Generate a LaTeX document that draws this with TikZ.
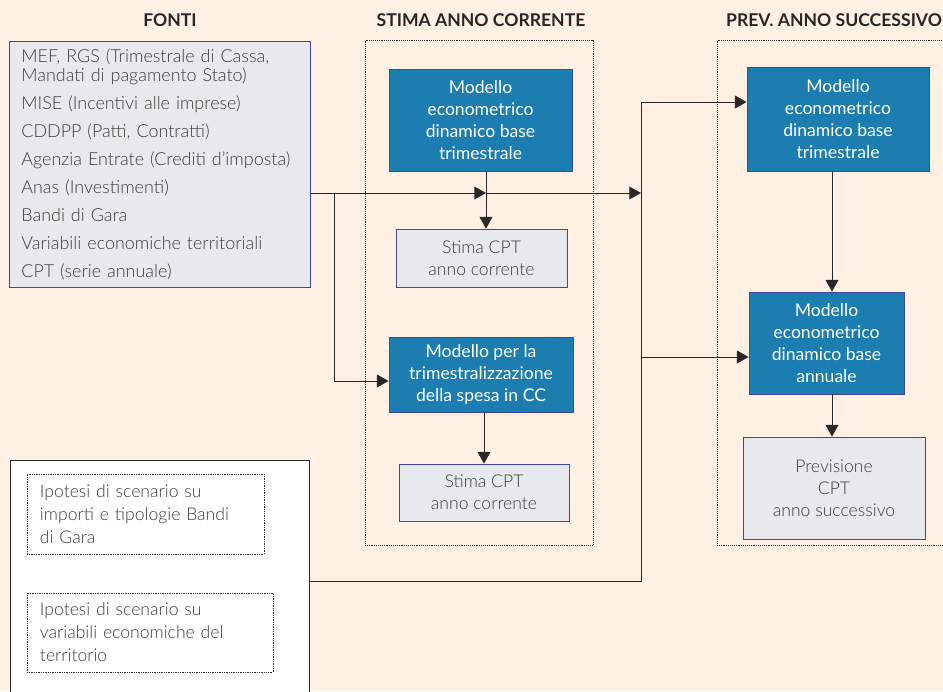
\documentclass[tikz,border=0pt]{standalone}
\usepackage{fontspec}
\setmainfont{Lato}
\newfontfamily\lightfont{Lato}[UprightFont=* Light]
\usetikzlibrary{arrows.meta, positioning}
\definecolor{cream}{RGB}{254,241,227}
\definecolor{modblue}{RGB}{28,125,176}
\definecolor{edgeblue}{RGB}{62,72,160}
\definecolor{boxgrey}{RGB}{232,233,238}
\definecolor{txtgrey}{RGB}{60,60,60}
\definecolor{linegrey}{RGB}{40,40,40}

\begin{document}
\begin{tikzpicture}[x=0.03cm, y=-0.03cm,
  modbox/.style={draw=edgeblue, fill=modblue, text=white, align=center, inner sep=2pt, line width=0.7pt, font=\fontsize{15}{18.8}\selectfont},
  outbox/.style={draw=edgeblue, fill=boxgrey, text=txtgrey, align=center, inner sep=2pt, line width=0.7pt, font=\lightfont\fontsize{15}{18.8}\selectfont},
  srcbox/.style={draw=edgeblue, fill=boxgrey, text=txtgrey, align=left, inner xsep=0.36cm, line width=0.7pt, font=\lightfont\fontsize{15.3}{16.2}\selectfont},
  phasebox/.style={draw=linegrey, densely dotted, line width=0.6pt},
  ipobox/.style={draw=linegrey, densely dotted, line width=0.5pt, text=txtgrey, align=left, inner xsep=0.39cm, font=\lightfont\fontsize{15}{19.6}\selectfont},
  title/.style={font=\bfseries\fontsize{15}{18}\selectfont, text=black!85},
  wire/.style={draw=linegrey, line width=0.8pt},
  arr/.style={wire, -{Triangle[length=10pt,width=11pt]}}
]
  \clip (0,0) rectangle (943,691);
  \fill[cream] (0,0) rectangle (943,691);

  % titoli
  \node[title] (tfonti) at (170,20) {FONTI};
  \node[title] (tcorr) at (481,20) {STIMA ANNO CORRENTE};
  \node[title, anchor=west] (tsucc) at (722,20) {PREV. ANNO SUCCESSIVO};

  % riquadri tratteggiati
  \node[phasebox, minimum width=6.84cm, minimum height=15.15cm] (corrente) at (479,292.5) {};
  \node[phasebox, minimum width=7.29cm, minimum height=15.15cm] (successivo) at (838.5,292.5) {};

  % fonti
  \node[srcbox, anchor=north west, text width=8.31cm, minimum height=7.38cm] (fonti) at (9,41)
    {MEF, RGS (Trimestrale di Cassa,\\Mandati di pagamento Stato)\\[7.7pt]
     MISE (Incentivi alle imprese)\\[7.7pt]
     CDDPP (Patti, Contratti)\\[7.7pt]
     Agenzia Entrate (Crediti d’imposta)\\[7.7pt]
     Anas (Investimenti)\\[7.7pt]
     Bandi di Gara\\[7.7pt]
     Variabili economiche territoriali\\[7.7pt]
     CPT (serie annuale)};

  % scenari
  \node[draw=linegrey, fill=white, line width=0.7pt, minimum width=8.97cm, minimum height=7.8cm] (scenari) at (159.5,590) {};
  \node[ipobox, text width=6.33cm, minimum height=2.4cm] (ipo1) at (145.5,514)
    {Ipotesi di scenario su\\importi e tipologie Bandi\\di Gara};
  \node[ipobox, text width=6.6cm, minimum height=2.37cm] (ipo2) at (150,632.5)
    {Ipotesi di scenario su\\variabili economiche del\\territorio};

  % stima anno corrente
  \node[modbox, minimum width=5.49cm, minimum height=3.06cm] (modtrim) at (480.5,120)
    {Modello\\econometrico\\dinamico base\\trimestrale};
  \node[outbox, minimum width=5.13cm, minimum height=1.74cm] (stima1) at (481.5,258)
    {Stima CPT\\anno corrente};
  \node[modbox, minimum width=5.52cm, minimum height=2.25cm] (modcc) at (481,374.5)
    {Modello per la\\trimestralizzazione\\della spesa in CC};
  \node[outbox, minimum width=5.1cm, minimum height=1.71cm] (stima2) at (484,492.5)
    {Stima CPT\\anno corrente};

  % previsione anno successivo
  \node[modbox, minimum width=5.46cm, minimum height=3.12cm] (prevtrim) at (838,119)
    {Modello\\econometrico\\dinamico base\\trimestrale};
  \node[modbox, minimum width=4.65cm, minimum height=3.06cm] (modann) at (826.5,343)
    {Modello\\econometrico\\dinamico base\\annuale};
  \node[outbox, minimum width=5.46cm, minimum height=3.06cm] (prevcpt) at (834,488)
    {Previsione\\CPT\\anno successivo};

  % punti di snodo
  \coordinate (j1) at (486,193);
  \coordinate (b1) at (334,193);
  \coordinate (b2) at (334,381);
  \coordinate (bt) at (641,102);
  \coordinate (bm) at (641,357);
  \coordinate (bb) at (641,581);
  \coordinate (bj) at (641,193);
  \coordinate (rc) at (832,0);

  % collegamenti
  \draw[arr] (fonti.east |- j1) -- (j1);
  \draw[arr] (j1) -- (bj);
  \draw[arr] (modtrim.south -| j1) -- (stima1.north -| j1);
  \draw[arr] (b1) -- (b2) -- (modcc.west |- b2);
  \draw[arr] (modcc.south -| stima2) -- (stima2.north);
  \draw[wire] (scenari.east |- bb) -- (bb) -- (bt);
  \draw[arr] (bt) -- (prevtrim.west |- bt);
  \draw[arr] (bm) -- (modann.west |- bm);
  \draw[arr] (prevtrim.south -| rc) -- (modann.north -| rc);
  \draw[arr] (modann.south -| rc) -- (prevcpt.north -| rc);
\end{tikzpicture}
\end{document}
